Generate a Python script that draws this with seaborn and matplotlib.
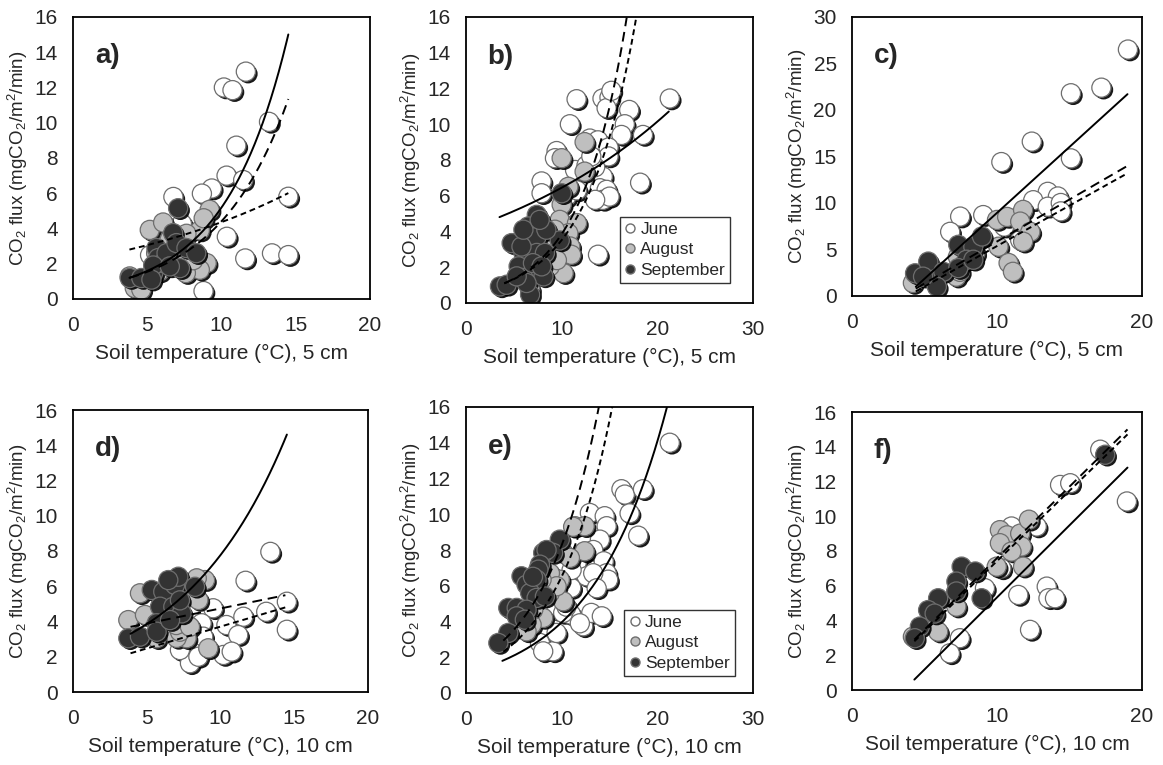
import numpy as np
import pandas as pd
import matplotlib.pyplot as plt
import matplotlib.patheffects as pe
from matplotlib.lines import Line2D
import seaborn as sns

sns.set_style("white")
plt.rcParams['font.family'] = ['Liberation Sans', 'DejaVu Sans']
plt.rcParams['mathtext.fontset'] = 'custom'
plt.rcParams['mathtext.rm'] = 'Liberation Sans'
plt.rcParams['mathtext.it'] = 'Liberation Sans:italic'

# ---- data: soil temperature (T) and CO2 flux (F) ----
# a) 5 cm, site 1
A_JUN_T = [11.64, 10.16, 10.74, 13.2, 11.0, 10.34, 11.46, 9.35, 8.68, 6.76, 14.5, 7.33, 10.36, 13.4, 14.5, 11.6, 8.79, 5.19]
A_JUN_F = [12.9, 12.0, 11.85, 10.05, 8.7, 7.0, 6.75, 6.27, 5.98, 5.79, 5.8, 4.28, 3.53, 2.59, 2.49, 2.3, 0.45, 2.49]
A_AUG_T = [3.82, 4.16, 4.6, 5.17, 6.07, 8.54, 9.2, 8.8, 9.0, 8.54, 7.6, 7.2, 8.1, 5.84, 6.5, 5.6, 7.64, 7.5]
A_AUG_F = [1.28, 0.62, 0.53, 3.92, 4.34, 3.89, 5.06, 4.58, 2.04, 1.66, 1.47, 2.6, 2.2, 1.57, 3.36, 2.6, 3.7, 2.9]
A_SEP_T = [7.08, 6.74, 5.62, 5.73, 3.82, 4.6, 5.4, 6.07, 6.3, 6.97, 7.64, 8.3, 7.2, 5.4, 6.52, 5.28]
A_SEP_F = [5.15, 3.74, 2.89, 2.32, 1.19, 1.19, 1.47, 2.04, 2.6, 3.17, 2.89, 2.6, 1.75, 1.9, 1.85, 1.1]

# b) 5 cm, site 2
B_JUN_T = [21.3, 11.56, 14.27, 15.0, 14.7, 15.2, 10.86, 17.06, 16.6, 16.25, 18.5, 9.47, 9.3, 12.95, 13.8,
           14.9, 14.9, 11.4, 12.6, 7.9, 7.9, 14.3, 14.0, 14.7, 14.3, 15.0, 13.5, 18.2, 13.8, 10.5, 13.5, 13.1, 11.6]
B_JUN_F = [11.44, 11.4, 11.44, 11.5, 10.9, 11.87, 10.0, 10.8, 10.0, 9.4, 9.4, 8.5, 8.1, 9.2, 9.1,
           8.7, 8.2, 7.44, 7.7, 6.8, 6.14, 7.07, 6.42, 6.33, 5.77, 5.95, 5.77, 6.73, 2.7, 5.95, 7.6, 8.2, 6.3]
B_AUG_T = [12.4, 10.0, 12.4, 10.7, 10.0, 9.8, 11.6, 10.7, 9.3, 10.9, 10.0, 11.0, 10.2, 8.77, 8.4, 7.7, 9.5, 6.7]
B_AUG_F = [9.0, 8.1, 7.35, 6.5, 5.5, 4.65, 4.47, 3.9, 4.1, 3.16, 2.8, 2.7, 1.67, 2.05, 3.5, 2.8, 2.4, 0.74]
B_SEP_T = [7.4, 6.5, 6.7, 7.4, 4.77, 6.0, 5.5, 6.0, 7.4, 8.25, 10.0, 9.8, 3.55, 4.25, 6.7, 8.1, 6.33, 5.3,
           8.4, 7.0, 7.9, 5.8, 6.0, 7.7]
B_SEP_F = [4.93, 4.28, 3.53, 3.72, 3.35, 2.8, 2.05, 1.4, 2.8, 2.8, 6.14, 3.5, 0.93, 1.02, 0.47, 1.49, 1.12, 1.49,
           4.1, 2.23, 2.05, 3.16, 4.1, 4.65]

# c) 5 cm, site 3
C_JUN_T = [19.03, 17.2, 15.1, 15.1, 12.4, 10.3, 9.05, 7.46, 6.77, 13.5, 12.5, 14.2, 13.5, 14.4, 14.4, 11.6, 10.5]
C_JUN_F = [26.5, 22.4, 21.8, 14.8, 16.6, 14.4, 8.7, 8.54, 6.9, 11.2, 10.3, 10.7, 9.6, 10.0, 9.1, 6.0, 7.46]
C_AUG_T = [10.0, 10.7, 11.8, 11.6, 12.3, 11.8, 10.1, 10.8, 11.1, 4.2, 7.2, 7.44, 7.3, 8.5]
C_AUG_F = [8.18, 8.5, 9.26, 8.0, 6.9, 5.84, 5.3, 3.55, 2.6, 1.4, 2.08, 2.6, 4.2, 4.6]
C_SEP_T = [4.35, 5.26, 5.74, 6.3, 7.33, 8.37, 8.96, 7.9, 7.33, 8.37, 5.85, 4.9]
C_SEP_F = [2.44, 3.7, 1.54, 2.6, 5.5, 5.3, 6.4, 3.9, 3.0, 3.9, 1.0, 2.08]

# d) 10 cm, site 1
D_JUN_T = [13.38, 11.7, 9.5, 10.4, 11.55, 13.1, 14.5, 14.5, 11.2, 8.72, 8.83, 7.93, 8.5, 7.25, 10.2, 10.76]
D_JUN_F = [7.95, 6.31, 4.75, 3.8, 4.27, 4.55, 5.12, 3.53, 3.23, 3.9, 3.14, 1.63, 2.0, 2.38, 2.1, 2.29]
D_AUG_T = [4.54, 3.75, 4.88, 7.7, 7.03, 9.17, 8.5, 8.95, 8.39, 7.25, 7.0, 5.67, 6.12, 7.93]
D_AUG_F = [5.6, 4.08, 4.37, 3.05, 3.07, 2.48, 5.22, 6.35, 6.45, 3.42, 3.8, 3.05, 4.65, 3.7]
D_SEP_T = [3.75, 4.54, 5.34, 6.12, 6.92, 7.14, 8.27, 5.9, 5.67, 5.67, 6.8, 7.37, 6.58, 7.25, 6.46]
D_SEP_F = [3.05, 3.14, 5.79, 5.69, 6.07, 6.54, 5.97, 4.84, 3.9, 3.42, 4.84, 4.46, 4.08, 5.2, 6.35]

# e) 10 cm, site 2
E_JUN_T = [21.3, 16.25, 16.6, 18.5, 17.1, 18.0, 12.95, 14.5, 14.7, 14.0, 12.25, 13.3, 14.4, 14.7, 14.86,
           11.56, 12.6, 13.3, 11.0, 9.47, 11.0, 12.25, 13.1, 14.2, 7.73, 9.1, 8.07, 9.47, 10.16, 13.66, 11.9,
           10.5, 11.04]
E_JUN_F = [14.0, 11.4, 11.1, 11.4, 10.05, 8.8, 10.07, 9.89, 9.33, 8.58, 7.84, 8.0, 7.37, 6.7, 6.34,
           7.28, 6.53, 6.7, 5.88, 4.66, 4.38, 3.73, 4.48, 4.29, 2.8, 2.33, 2.33, 3.36, 4.48, 5.86, 3.9,
           4.83, 6.88]
E_AUG_T = [11.4, 12.4, 11.2, 12.4, 10.16, 10.86, 9.8, 10.16, 8.77, 8.07, 6.86, 6.33, 8.77, 7.03, 9.47, 7.9]
E_AUG_F = [9.33, 9.33, 9.3, 7.93, 7.84, 7.56, 6.34, 5.13, 5.6, 4.2, 3.82, 3.45, 6.7, 4.66, 5.97, 6.34]
E_SEP_T = [9.8, 9.1, 8.07, 8.42, 7.73, 7.56, 5.8, 7.38, 6.33, 6.7, 7.38, 8.25, 4.42, 5.3, 6.33, 5.3, 6.15,
           4.42, 3.38, 7.0]
E_SEP_F = [8.58, 7.84, 7.84, 8.0, 7.18, 6.9, 6.53, 6.34, 6.06, 5.6, 5.32, 5.4, 4.76, 4.76, 4.66, 4.29, 4.1,
           3.36, 2.8, 6.5]

# f) 10 cm, site 3
F_JUN_T = [17.12, 14.35, 15.05, 18.96, 11.0, 12.74, 10.9, 10.3, 9.17, 11.47, 13.43, 13.55, 14.0, 12.28, 7.44, 6.75]
F_JUN_F = [13.83, 11.8, 11.9, 10.85, 9.41, 9.41, 8.16, 7.0, 5.86, 5.47, 5.95, 5.28, 5.28, 3.46, 2.98, 2.11]
F_AUG_T = [10.2, 10.7, 10.2, 11.6, 12.2, 11.7, 11.0, 9.98, 11.8, 7.2, 7.2, 5.94, 4.2]
F_AUG_F = [9.2, 8.9, 8.45, 9.0, 9.8, 8.26, 7.97, 7.1, 7.1, 5.67, 4.8, 3.36, 3.07]
F_SEP_T = [7.56, 8.5, 7.2, 7.2, 8.94, 5.94, 5.25, 5.7, 4.68, 4.33, 17.46]
F_SEP_F = [7.1, 6.82, 6.24, 5.67, 5.28, 5.28, 4.6, 4.4, 3.65, 2.98, 13.54]

# fitted curves: [kind, a, b, t_min, t_max]  exp: F = a*exp(b*T), lin: F = a + b*T
A_FITS = [["exp", 0.49, 0.236, 3.8, 14.5], ["exp", 0.54, 0.21, 3.8, 14.5], ["exp", 2.14, 0.0712, 3.8, 14.5]]
B_FITS = [["exp", 4.10, 0.0453, 3.5, 21.2], ["exp", 0.477, 0.209, 4.0, 16.8], ["exp", 0.506, 0.194, 4.0, 17.8]]
C_FITS = [["lin", -5.24, 1.418, 4.4, 19.0], ["lin", -3.18, 0.904, 4.4, 19.0], ["lin", -3.33, 0.870, 4.4, 19.0]]
D_FITS = [["exp", 1.91, 0.1403, 3.9, 14.5], ["lin", 3.03, 0.171, 3.9, 14.4], ["lin", 1.23, 0.248, 3.9, 14.4]]
E_FITS = [["exp", 1.11, 0.127, 3.8, 21.0], ["exp", 1.51, 0.17, 3.9, 13.9], ["exp", 1.19, 0.17, 3.9, 15.3]]
F_FITS = [["lin", -2.97, 0.830, 4.3, 19.0], ["lin", -0.64, 0.823, 4.3, 19.0], ["lin", -0.68, 0.81, 4.3, 19.0]]

MONTHS = ["June", "August", "September"]
COLORS = {"June": "white", "August": "#bfbfbf", "September": "#333333"}
YLAB = r"CO$_2$ flux (mgCO$_2$/m$^2$/min)"
YLAB_E = r"CO$_2$ flux (mgCO$^2$/m$^2$/min)"

panels = [
    ("a)", [A_JUN_T, A_AUG_T, A_SEP_T], [A_JUN_F, A_AUG_F, A_SEP_F], A_FITS, 20, 5, 16, 2, "5 cm", YLAB, False),
    ("b)", [B_JUN_T, B_AUG_T, B_SEP_T], [B_JUN_F, B_AUG_F, B_SEP_F], B_FITS, 30, 10, 16, 2, "5 cm", YLAB, True),
    ("c)", [C_JUN_T, C_AUG_T, C_SEP_T], [C_JUN_F, C_AUG_F, C_SEP_F], C_FITS, 20, 10, 30, 5, "5 cm", YLAB, False),
    ("d)", [D_JUN_T, D_AUG_T, D_SEP_T], [D_JUN_F, D_AUG_F, D_SEP_F], D_FITS, 20, 5, 16, 2, "10 cm", YLAB, False),
    ("e)", [E_JUN_T, E_AUG_T, E_SEP_T], [E_JUN_F, E_AUG_F, E_SEP_F], E_FITS, 30, 10, 16, 2, "10 cm", YLAB_E, True),
    ("f)", [F_JUN_T, F_AUG_T, F_SEP_T], [F_JUN_F, F_AUG_F, F_SEP_F], F_FITS, 20, 10, 16, 2, "10 cm", YLAB, False),
]

W, H = 1163, 765
boxes = [(73, 17, 297, 282), (466, 17, 287, 286), (852, 17, 290, 279),
         (73, 410, 295, 282), (466, 407, 287, 286), (852, 412, 290, 278)]
legend_pos = {"b)": (0.535, 0.07), "e)": (0.552, 0.06)}
styles = ["-", (0, (5, 3)), (0, (3, 2))]

fig = plt.figure(figsize=(W / 100, H / 100), dpi=100)
for (label, ts, fs, fits, xmax, xstep, ymax, ystep, depth, ylab, has_leg), (l, t, w, h) in zip(panels, boxes):
    ax = fig.add_axes([l / W, 1 - (t + h) / H, w / W, h / H])
    for month, tx, fx in zip(MONTHS, ts, fs):
        df = pd.DataFrame({"T": tx, "F": fx})
        sns.scatterplot(data=df, x="T", y="F", ax=ax, color=COLORS[month], s=190,
                        edgecolor="#6e6e6e", linewidth=0.9, legend=False, zorder=2)
        ax.collections[-1].set_path_effects([
            pe.SimplePatchShadow(offset=(1.6, -1.6), shadow_rgbFace="black", alpha=0.9), pe.Normal()])
    for (kind, a, b, t0, t1), ls in zip(fits, styles):
        xx = np.linspace(t0, t1, 200)
        yy = a * np.exp(b * xx) if kind == "exp" else a + b * xx
        ax.plot(xx, yy, color="black", lw=1.4, ls=ls, zorder=3)
    ax.set_xlim(0, xmax)
    ax.set_ylim(0, ymax)
    ax.set_xticks(np.arange(0, xmax + 0.1, xstep))
    ax.set_yticks(np.arange(0, ymax + 0.1, ystep))
    ax.tick_params(axis="x", direction="in", length=6, width=1.2, labelsize=15, pad=12)
    ax.tick_params(axis="y", direction="out", length=5, width=1.2, labelsize=15, pad=6)
    for sp in ax.spines.values():
        sp.set_linewidth(1.3)
        sp.set_color("black")
    ax.set_xlabel("Soil temperature (°C), " + depth, fontsize=15, labelpad=7)
    ax.set_ylabel(ylab, fontsize=13.5, labelpad=3)
    ax.text(0.075, 0.86, label, transform=ax.transAxes, fontsize=20, fontweight="bold", va="center")
    if has_leg:
        handles = [Line2D([], [], marker="o", ls="", markersize=6.5, markerfacecolor=COLORS[m],
                          markeredgecolor="#6e6e6e", label=m) for m in MONTHS]
        leg = ax.legend(handles=handles, loc="lower left", bbox_to_anchor=legend_pos[label],
                        fontsize=12.5, frameon=True, fancybox=False, edgecolor="black",
                        handlelength=0.6, handletextpad=0.3, borderpad=0.3, labelspacing=0.3,
                        borderaxespad=0)
        leg.get_frame().set_linewidth(1.0)

fig.savefig("out.png", dpi=100)
